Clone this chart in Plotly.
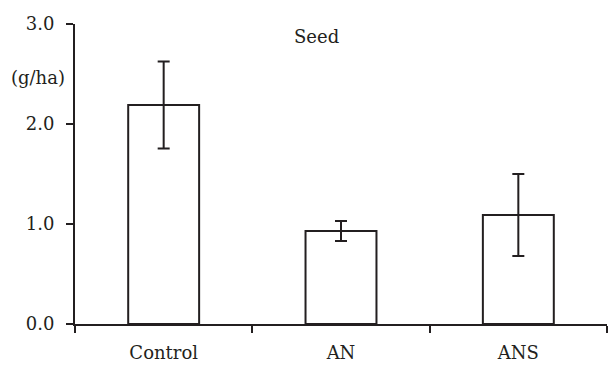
import plotly.graph_objects as go

# Seed yield by treatment (g/ha), mean with error
categories = ["Control", "AN", "ANS"]
means = [2.19, 0.93, 1.09]
errors = [0.435, 0.10, 0.41]
y_ticks = [0.0, 1.0, 2.0, 3.0]
y_tick_labels = ["0.0", "1.0", "2.0", "3.0"]

ink = "#231f20"
font = dict(family="DejaVu Serif", size=18, color=ink)

fig = go.Figure(
    go.Bar(
        x=categories,
        y=means,
        width=0.4,
        marker=dict(color="white", line=dict(color=ink, width=2)),
        error_y=dict(type="data", array=errors, visible=True,
                     color=ink, thickness=2, width=6),
    )
)

fig.update_layout(
    width=610,
    height=365,
    margin=dict(l=75, r=3, t=24, b=41),
    paper_bgcolor="white",
    plot_bgcolor="white",
    font=font,
    showlegend=False,
    xaxis=dict(
        range=[-0.5, 2.5],
        showline=True, linecolor=ink, linewidth=2,
        ticks="outside", tickson="boundaries", ticklen=7,
        tickwidth=2, tickcolor=ink,
        showgrid=False, zeroline=False,
        tickfont=font, ticklabelstandoff=11,
    ),
    yaxis=dict(
        range=[0, 3],
        tickvals=y_ticks, ticktext=y_tick_labels,
        showline=True, linecolor=ink, linewidth=2,
        ticks="outside", ticklen=7, tickwidth=2, tickcolor=ink,
        showgrid=False, zeroline=False,
        tickfont=font, ticklabelstandoff=8,
    ),
)

# title and unit labels, placed in pixel coordinates of the page
plot_w = 610 - 75 - 3
plot_h = 365 - 24 - 41
for text, px, py in [("Seed", 316, 36), ("(g/ha)", 37.5, 77)]:
    fig.add_annotation(
        text=text, showarrow=False, font=font,
        xref="paper", yref="paper",
        x=(px - 75) / plot_w, y=1 - (py - 24) / plot_h,
        xanchor="center", yanchor="middle",
    )

fig.write_html("out.html")
